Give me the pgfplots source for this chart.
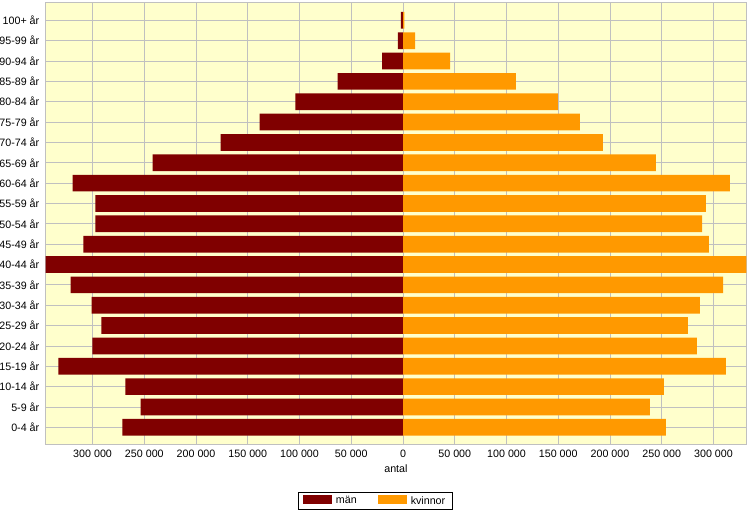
\documentclass[border=0pt]{standalone}
\usepackage{pgfplots}
\pgfplotsset{compat=1.18}
\usepackage{pgfplotstable}
\usepackage{fontspec}
\setmainfont{Liberation Sans}
\definecolor{man}{HTML}{800000}
\definecolor{kvinna}{HTML}{FF9900}
\definecolor{bg}{HTML}{FFFFCC}
\definecolor{gridc}{HTML}{C0C0C0}

\pgfplotstableread{
idx man kvinna
0 -271100 254000
1 -253600 238600
2 -268200 252100
3 -333000 312000
4 -300100 284000
5 -291400 275300
6 -301000 286900
7 -321300 309200
8 -345500 331700
9 -308800 295600
10 -297200 288900
11 -297200 292700
12 -319400 315900
13 -242000 244400
14 -176300 193100
15 -138600 170900
16 -104000 149600
17 -63100 109000
18 -20300 45400
19 -5000 11600
20 -2000 1200
}\data

\begin{document}
\begin{tikzpicture}
\useasboundingbox (0,0) rectangle (748bp,512bp);
\begin{axis}[
  at={(45.5bp,67.7bp)}, anchor=south west,
  scale only axis, width=700.8bp, height=442bp,
  xmin=-345500, xmax=331700, ymin=-0.835, ymax=20.885,
  xbar, bar width=16.7bp,
  axis background/.style={fill=bg},
  axis line style={draw=gridc, line width=0.8bp},
  grid=major, major grid style={draw=gridc, line width=0.8bp},
  scaled x ticks=false,
  xtick={-300000,-250000,-200000,-150000,-100000,-50000,0,50000,100000,150000,200000,250000,300000},
  xticklabels={300 000,250 000,200 000,150 000,100 000,50 000,0,50 000,100 000,150 000,200 000,250 000,300 000},
  ytick={0,1,2,3,4,5,6,7,8,9,10,11,12,13,14,15,16,17,18,19,20},
  yticklabels={0-4 år,5-9 år,10-14 år,15-19 år,20-24 år,25-29 år,30-34 år,35-39 år,40-44 år,45-49 år,50-54 år,55-59 år,60-64 år,65-69 år,70-74 år,75-79 år,80-84 år,85-89 år,90-94 år,95-99 år,100+ år},
  tick style={draw=none},
  font=\fontsize{10.7bp}{12bp}\selectfont,
  xticklabel style={anchor=base, yshift=-13.4bp},
  yticklabel style={inner xsep=1.8bp},
  xlabel={antal},
  xlabel style={at={(axis description cs:0.5,0)}, anchor=base, yshift=-28.4bp},
  legend style={at={(axis description cs:0.4707,-0.1283)}, anchor=center,
    draw=black, fill=white, line width=0.8bp, inner xsep=5.5bp, inner ysep=1.5bp,
    /tikz/every odd column/.append style={column sep=1.5bp},
    /tikz/every even column/.append style={column sep=19.5bp}},
  legend columns=2,
]
\addplot[fill=man, draw=none, bar shift=0pt,
  legend image code/.code={\fill[man] (0bp,-2.7bp) rectangle (29bp,6bp);}]
  table[x=man, y=idx] {\data};
\addlegendentry{män}
\addplot[fill=kvinna, draw=none, bar shift=0pt,
  legend image code/.code={\fill[kvinna] (0bp,-2.7bp) rectangle (29bp,6bp);}]
  table[x=kvinna, y=idx] {\data};
\addlegendentry{kvinnor}
\end{axis}
\end{tikzpicture}
\end{document}
